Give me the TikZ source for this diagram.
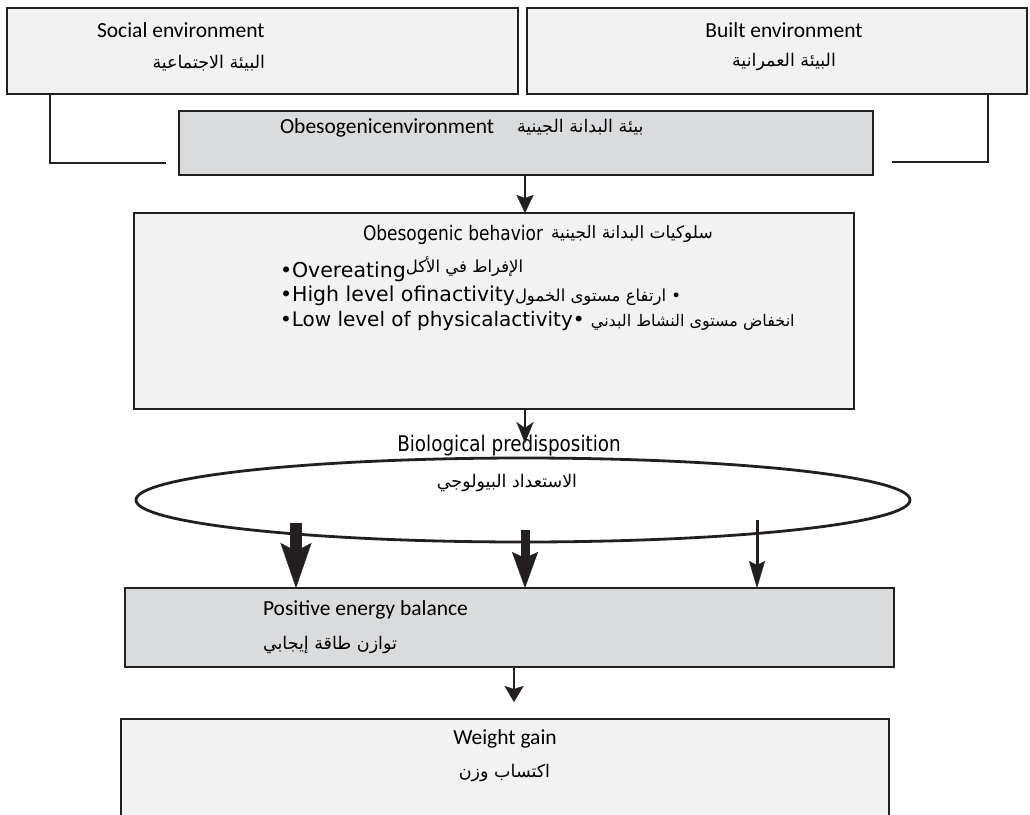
\documentclass[tikz,border=0pt]{standalone}
\usepackage{fontspec}
\setmainfont{Carlito}
\newfontfamily\arfont[Script=Arabic]{DejaVu Sans}
\newfontfamily\condfont[FakeStretch=0.85]{DejaVu Sans}
\newfontfamily\dvfont{DejaVu Sans}
\TeXXeTstate=1
\usetikzlibrary{arrows.meta,shapes.geometric}
\newcommand\AR[2][17]{{\fontsize{#1}{#1}\arfont\beginR #2\endR}}
\definecolor{lite}{HTML}{F2F2F2}
\definecolor{gry}{HTML}{DADBDD}
\definecolor{ink}{HTML}{231F20}
\tikzset{
  box/.style={draw=ink, line width=2.2pt, rectangle, inner sep=0pt, outer sep=0pt},
  conn/.style={draw=ink, line width=2pt},
  txt/.style={inner sep=0pt, outer sep=0pt, font=\fontsize{21.5}{26}\selectfont},
  plain/.style={inner sep=0pt, outer sep=0pt},
  arrA/.style={draw=ink, line width=2pt, -{Stealth[length=18pt,width=17pt,inset=3pt,line width=0.1pt]}},
  arrB/.style={draw=ink, line width=2pt, -{Stealth[length=21pt,width=17pt,inset=6pt,line width=0.1pt]}},
  arrC/.style={draw=ink, line width=2pt, -{Stealth[length=16pt,width=19pt,inset=3pt,line width=0.1pt]}},
  fatL/.style={draw=ink, line width=12pt, -{Stealth[length=45pt,width=31pt,inset=8pt,line width=0.1pt]}},
  fatM/.style={draw=ink, line width=9pt, -{Stealth[length=36pt,width=26pt,inset=6pt,line width=0.1pt]}},
  fatR/.style={draw=ink, line width=3pt, -{Stealth[length=27pt,width=16pt,inset=4pt,line width=0.1pt]}},
}
\begin{document}
\begin{tikzpicture}[x=1pt,y=-1pt]
\useasboundingbox (0,0) rectangle (1030,814);
\fill[white] (0,0) rectangle (1030,814);

% connectors from top boxes
\coordinate (sc) at (166,163);
\coordinate (bc) at (892,162);

\node[box, fill=lite, minimum width=511pt, minimum height=86pt] (social) at (262.5,51) {};
\node[box, fill=lite, minimum width=500pt, minimum height=86pt] (built) at (777,51) {};
\draw[conn] ([xshift=43pt]social.south west) |- (sc);
\draw[conn] ([xshift=-39pt]built.south east) |- (bc);

\node[txt, anchor=west] (t1) at (97,30) {Social environment};
\node[plain, anchor=east] (t1a) at (265,63) {\AR[17.5]{البيئة الاجتماعية}};
\node[txt] (t2) at (784,30) {Built environment};
\node[plain] (t2a) at (784,62) {\AR[17.5]{البيئة العمرانية}};

% obesogenic environment
\node[box, fill=gry, minimum width=694pt, minimum height=64pt] (env) at (526,143) {};
\node[txt, anchor=west] (t3) at (280,128) {Obesogenicenvironment};
\node[plain, anchor=west] (t3a) at (517,127) {\AR[17.5]{بيئة البدانة الجينية}};

% behaviour box
\node[box, fill=lite, minimum width=720pt, minimum height=196pt] (beh) at (494,311) {};
\coordinate (x1) at (525,0);
\draw[arrA] (env.south -| x1) -- (beh.north -| x1);

\node[plain, anchor=west] (h1) at (363,235) {\condfont\fontsize{20}{24}\selectfont Obesogenic behavior};
\node[plain, anchor=west] (h1a) at (551,234) {\AR[17]{سلوكيات البدانة الجينية}};
\node[plain, anchor=west] (b1) at (280,269) {\dvfont\fontsize{20.5}{24}\selectfont •Overeating\raisebox{5pt}{\AR[16.5]{الإفراط في الأكل}}};
\node[plain, anchor=west] (b2) at (280,296) {\dvfont\fontsize{20.5}{24}\selectfont •High level ofinactivity\AR[16.5]{• ارتفاع مستوى الخمول}};
\node[plain, anchor=west] (b3) at (280,321) {\dvfont\fontsize{20}{24}\selectfont •Low level of physicalactivity• \AR[16]{انخفاض مستوى النشاط البدني}};

% biological predisposition
\node[ellipse, draw=ink, line width=2.8pt, fill=white, inner sep=0pt, minimum width=774pt, minimum height=84pt] (bio) at (523,500) {};
\node[plain] (bt) at (509,446) {\condfont\fontsize{21.6}{26}\selectfont Biological predisposition};
\node[plain] (bta) at (507,483) {\AR[17.5]{الاستعداد البيولوجي}};
\coordinate (a2) at (525,443);
\draw[arrB] (beh.south -| x1) -- (a2);

% positive energy balance
\node[box, fill=gry, minimum width=769pt, minimum height=79pt] (en) at (509.5,627.5) {};
\node[txt, anchor=west] (t5) at (263,610) {Positive energy balance};
\node[plain, anchor=west] (t5a) at (263,645) {\AR[17.5]{توازن طاقة إيجابي}};

\coordinate (p1) at (296,523);
\coordinate (p2) at (525,530);
\coordinate (p3) at (757,520);
\draw[fatL] (p1) -- (p1 |- en.north);
\draw[fatM] (p2) -- (p2 |- en.north);
\draw[fatR] (p3) -- (p3 |- en.north);

% weight gain
\node[box, fill=lite, minimum width=768pt, minimum height=102pt] (wg) at (505,770) {};
\node[txt] (t6) at (505,739) {Weight gain};
\node[plain] (t6a) at (504.5,773) {\AR[17.5]{اكتساب وزن}};
\coordinate (x3) at (514,0);
\coordinate (a3) at (514,702);
\draw[arrC] (en.south -| x3) -- (a3);
\end{tikzpicture}
\end{document}
